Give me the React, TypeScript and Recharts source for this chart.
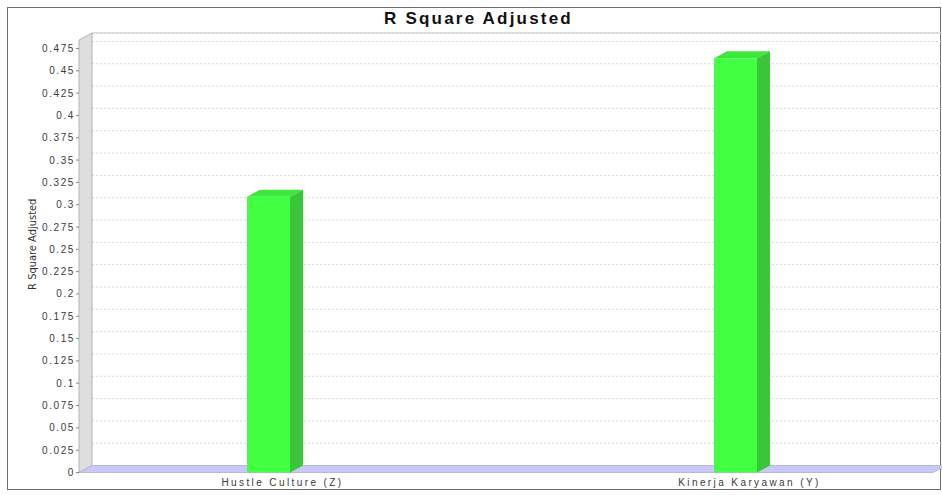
import React from 'react';
import { BarChart, Bar, XAxis, YAxis, CartesianGrid, ReferenceArea } from 'recharts';

const categories = ['Hustle Culture (Z)', 'Kinerja Karyawan (Y)'];
const values = [0.309, 0.464];
const yTicks = [0, 0.025, 0.05, 0.075, 0.1, 0.125, 0.15, 0.175, 0.2, 0.225, 0.25, 0.275, 0.3, 0.325, 0.35, 0.375, 0.4, 0.425, 0.45, 0.475];
const yMax = 0.4845;
const title = 'R Square Adjusted';
const yLabel = 'R Square Adjusted';

const data = categories.map((name, i) => ({ name, value: values[i] }));

const DX = 13;
const DY = 7;
const PAD_LEFT = -44;
const PAD_RIGHT = -36;

const Bar3D = (props: any) => {
  const { x, y, width, height } = props;
  if (width == null || height == null) return null;
  const front = '#41ff41';
  const top = '#3be83b';
  const side = '#3cc43c';
  return (
    <g>
      <polygon
        points={`${x},${y} ${x + DX},${y - DY} ${x + width + DX},${y - DY} ${x + width},${y}`}
        fill={top}
      />
      <polygon
        points={`${x + width},${y} ${x + width + DX},${y - DY} ${x + width + DX},${y + height - DY} ${x + width},${y + height}`}
        fill={side}
      />
      <rect x={x} y={y} width={width} height={height} fill={front} />
    </g>
  );
};

const Walls = (props: any) => {
  const x = props.x - PAD_LEFT;
  const width = props.width + PAD_LEFT + PAD_RIGHT;
  const { y, height } = props;
  const b = y + height;
  return (
    <g>
      <line x1={x + DX} y1={y - DY} x2={x + width + DX} y2={y - DY} stroke="#c8c8c8" strokeWidth={1} />
      <polygon
        points={`${x},${b} ${x},${y} ${x + DX},${y - DY} ${x + DX},${b - DY}`}
        fill="#dedede"
        stroke="#b4b4b4"
        strokeWidth={1}
      />
      <polygon
        points={`${x},${b} ${x + DX},${b - DY} ${x + width + DX},${b - DY} ${x + width},${b}`}
        fill="#c8c8fc"
        stroke="#b0b0c8"
        strokeWidth={0.8}
      />
    </g>
  );
};

const GridLine = (props: any) => {
  const { x1, y1, x2, y2 } = props;
  return (
    <line
      x1={x1 + DX}
      y1={y1 - DY}
      x2={x2 + DX}
      y2={y2 - DY}
      stroke="#d8d8d8"
      strokeWidth={1}
      strokeDasharray="2 2"
    />
  );
};

const YTick = (props: any) => {
  const { x, y, payload } = props;
  return (
    <text
      x={x + 1}
      y={y}
      dy={3.5}
      textAnchor="end"
      fontFamily="'Liberation Sans', Arial, sans-serif"
      fontSize={10}
      letterSpacing={1.6}
      fill="#3a3a3a"
    >
      {String(payload.value)}
    </text>
  );
};

const XTick = (props: any) => {
  const { x, y, payload } = props;
  return (
    <text
      x={x + 14}
      y={y}
      dy={13}
      textAnchor="middle"
      fontFamily="'Liberation Sans', Arial, sans-serif"
      fontSize={10}
      letterSpacing={2.4}
      fill="#3a3a3a"
    >
      {payload.value}
    </text>
  );
};

const YLabel = (props: any) => {
  const vb = props.viewBox || {};
  const cx = 32;
  const cy = (vb.y ?? 40) + (vb.height ?? 432) / 2 - 12;
  return (
    <text
      x={cx}
      y={cy}
      transform={`rotate(-90 ${cx} ${cy})`}
      textAnchor="middle"
      dominantBaseline="central"
      fontFamily="'Liberation Sans Narrow', 'DejaVu Sans Condensed', sans-serif"
      fontSize={11}
      fill="#333"
    >
      {yLabel}
    </text>
  );
};

export default function App() {
  return (
    <div style={{ position: 'absolute', left: 0, top: 0, width: 942, height: 495, background: '#fff' }}>
      <div
        style={{
          position: 'absolute',
          left: 7,
          top: 7,
          width: 932,
          height: 481,
          border: '1.5px solid #6e6e6e',
        }}
      />
      <div
        style={{
          position: 'absolute',
          left: 0,
          width: 957,
          top: 8,
          textAlign: 'center',
          fontFamily: "'Liberation Sans', Arial, sans-serif",
          fontWeight: 'bold',
          fontSize: 17,
          letterSpacing: 2.2,
          color: '#111',
          lineHeight: '22px',
        }}
      >
        {title}
      </div>
      <div style={{ position: 'absolute', left: 0, top: 0 }}>
        <BarChart
          width={942}
          height={495}
          data={data}
          margin={{ top: 40, right: 9, bottom: 0, left: 0 }}
          barSize={43}
        >
          <ReferenceArea y1={0} y2={yMax} shape={<Walls />} ifOverflow="visible" />
          <CartesianGrid vertical={false} horizontal={(p: any) => <GridLine key={p.key} {...p} />} />
          <XAxis
            dataKey="name"
            height={22.5}
            tickLine={false}
            axisLine={false}
            tickSize={0}
            tickMargin={0}
            padding={{ left: PAD_LEFT, right: PAD_RIGHT }}
            tick={<XTick />}
            interval={0}
          />
          <YAxis
            width={79}
            domain={[0, yMax]}
            ticks={yTicks}
            type="number"
            axisLine={false}
            tickLine={{ stroke: '#888' }}
            tickSize={3}
            tickMargin={2}
            tick={<YTick />}
            label={<YLabel />}
            interval={0}
          />
          <Bar dataKey="value" shape={<Bar3D />} isAnimationActive={false} />
        </BarChart>
      </div>
    </div>
  );
}
